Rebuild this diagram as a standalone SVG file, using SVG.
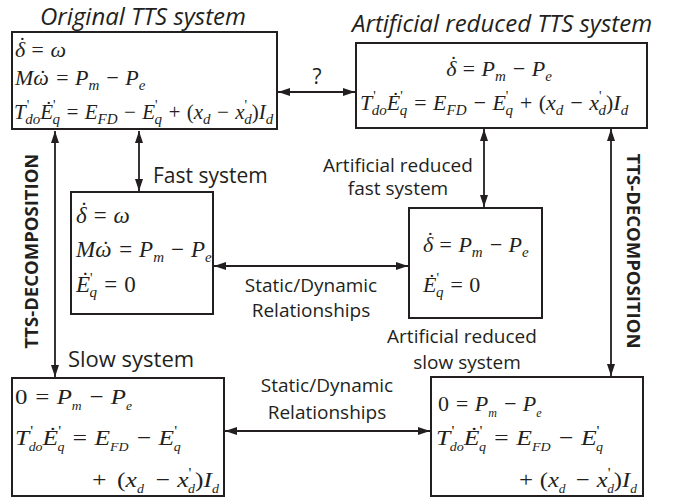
<svg xmlns="http://www.w3.org/2000/svg" width="678" height="502" viewBox="0 0 678 502">
<defs>
<marker id="ah" viewBox="0 0 12 8" refX="12" refY="4" markerWidth="12" markerHeight="8" markerUnits="userSpaceOnUse" orient="auto-start-reverse"><path d="M0,0 L12,4 L0,8 z" fill="#231f20"/></marker>
<style>
.box{fill:#fff;stroke:#231f20;stroke-width:2}
.eq{font-family:"Liberation Serif","Times New Roman",serif;font-style:italic;font-size:22px;fill:#231f20}
.n{font-style:normal}
.sb{font-size:15px}
.sb2{font-size:12px}
.pr{font-size:14px;font-style:normal}
.lbl{font-family:"Open Sans",sans-serif;font-size:19px;fill:#231f20}
.big{font-size:21px}
.title{font-family:"Open Sans",sans-serif;font-style:italic;font-size:24px;fill:#231f20}
.side{font-family:"Open Sans",sans-serif;font-weight:bold;font-size:18.5px;fill:#231f20}
.con{stroke:#231f20;stroke-width:1.8;fill:none;marker-start:url(#ah);marker-end:url(#ah)}
</style>
</defs>

<g id="connectors">
<line class="con" x1="278" y1="92" x2="355" y2="92"/>
<line class="con" x1="139" y1="131" x2="139" y2="191"/>
<line class="con" x1="484" y1="129" x2="484" y2="207"/>
<line class="con" x1="214" y1="266" x2="408" y2="266"/>
<line class="con" x1="55" y1="131" x2="55" y2="377"/>
<line class="con" x1="611" y1="129" x2="611" y2="376"/>
<line class="con" x1="225" y1="431" x2="430" y2="431"/>
<text class="lbl big" x="317" y="84" text-anchor="middle">?</text>
<text class="lbl big" x="153" y="183">Fast system</text>
<text class="lbl" x="398" y="172" text-anchor="middle">Artificial reduced</text>
<text class="lbl" x="398" y="195" text-anchor="middle">fast system</text>
<text class="lbl" x="311" y="292" text-anchor="middle">Static/Dynamic</text>
<text class="lbl" x="311" y="317" text-anchor="middle">Relationships</text>
<text class="lbl big" x="68" y="367" style="font-size:22px">Slow system</text>
<text class="lbl" x="462" y="343" text-anchor="middle">Artificial reduced</text>
<text class="lbl" x="467" y="369" text-anchor="middle">slow system</text>
<text class="lbl" x="327" y="392" text-anchor="middle">Static/Dynamic</text>
<text class="lbl" x="327" y="419" text-anchor="middle">Relationships</text>
<text class="side" transform="translate(38,251) rotate(-90)" text-anchor="middle">TTS-DECOMPOSITION</text>
<text class="side" transform="translate(627,251) rotate(90)" text-anchor="middle">TTS-DECOMPOSITION</text>
</g>

<g id="original">
<text class="title" x="143" y="25" text-anchor="middle">Original TTS system</text>
<rect class="box" x="12" y="32" width="265" height="97"/>
<text class="eq" x="15" y="57">δ<tspan dx="-8" dy="-5">˙</tspan><tspan dy="5"> = ω</tspan></text>
<text class="eq" x="15" y="85">Mω<tspan dx="-11">˙</tspan><tspan dx="4"> = P</tspan><tspan class="sb" dy="5">m</tspan><tspan dy="-5"> − P</tspan><tspan class="sb" dy="5">e</tspan></text>
<text class="eq" x="14" y="119" style="font-size:21px">T<tspan class="pr" dx="1" dy="-9">'</tspan><tspan class="sb" dx="-4" dy="14">do</tspan><tspan dy="-5">Ė</tspan><tspan class="pr" dy="-9">'</tspan><tspan class="sb" dx="-3" dy="14">q</tspan><tspan dy="-5"> = E</tspan><tspan class="sb" dy="5">FD</tspan><tspan dy="-5"> − E</tspan><tspan class="pr" dy="-9">'</tspan><tspan class="sb" dx="-3" dy="14">q</tspan><tspan dy="-5"> + <tspan class="n">(</tspan>x</tspan><tspan class="sb" dy="5">d</tspan><tspan dy="-5"> − x</tspan><tspan class="pr" dy="-9">'</tspan><tspan class="sb" dx="-3" dy="14">d</tspan><tspan dy="-5" class="n">)</tspan><tspan>I</tspan><tspan class="sb" dy="5">d</tspan></text>
</g>

<g id="artificial">
<text class="title" x="502" y="32" text-anchor="middle">Artificial reduced TTS system</text>
<rect class="box" x="356" y="43" width="291" height="85"/>
<text class="eq" x="499" y="76" text-anchor="middle">δ<tspan dx="-8" dy="-5">˙</tspan><tspan dy="5"> = P</tspan><tspan class="sb" dy="5">m</tspan><tspan dy="-5"> − P</tspan><tspan class="sb" dy="5">e</tspan></text>
<text class="eq" x="360" y="110">T<tspan class="pr" dx="1" dy="-9">'</tspan><tspan class="sb" dx="-4" dy="14">do</tspan><tspan dy="-5">Ė</tspan><tspan class="pr" dy="-9">'</tspan><tspan class="sb" dx="-3" dy="14">q</tspan><tspan dy="-5"> = E</tspan><tspan class="sb" dy="5">FD</tspan><tspan dy="-5"> − E</tspan><tspan class="pr" dy="-9">'</tspan><tspan class="sb" dx="-3" dy="14">q</tspan><tspan dy="-5"> + <tspan class="n">(</tspan>x</tspan><tspan class="sb" dy="5">d</tspan><tspan dy="-5"> − x</tspan><tspan class="pr" dy="-9">'</tspan><tspan class="sb" dx="-3" dy="14">d</tspan><tspan dy="-5" class="n">)</tspan><tspan>I</tspan><tspan class="sb" dy="5">d</tspan></text>
</g>

<g id="fast">
<rect class="box" x="71" y="192" width="142" height="122"/>
<text class="eq" x="76" y="223" style="font-size:23px">δ<tspan dx="-8" dy="-5">˙</tspan><tspan dy="5"> = ω</tspan></text>
<text class="eq" x="76" y="257" style="font-size:23px">Mω<tspan dx="-11">˙</tspan><tspan dx="4"> = P</tspan><tspan class="sb" dy="5">m</tspan><tspan dy="-5"> − P</tspan><tspan class="sb" dy="5">e</tspan></text>
<text class="eq" x="76" y="292" style="font-size:23px">Ė<tspan class="pr" dy="-9">'</tspan><tspan class="sb" dx="-3" dy="14">q</tspan><tspan dy="-5"> = </tspan><tspan class="n">0</tspan></text>
</g>

<g id="artfast">
<rect class="box" x="409" y="208" width="133" height="110"/>
<text class="eq" x="423" y="252">δ<tspan dx="-8" dy="-5">˙</tspan><tspan dy="5"> = P</tspan><tspan class="sb" dy="5">m</tspan><tspan dy="-5"> − P</tspan><tspan class="sb" dy="5">e</tspan></text>
<text class="eq" x="423" y="292">Ė<tspan class="pr" dy="-9">'</tspan><tspan class="sb" dx="-3" dy="14">q</tspan><tspan dy="-5"> = </tspan><tspan class="n">0</tspan></text>
</g>

<g id="slow">
<rect class="box" x="12" y="378" width="212" height="118"/>
<text class="eq" transform="translate(15,404) scale(1.13,1)"><tspan class="n">0</tspan> = P<tspan class="sb2" dy="6">m</tspan><tspan dy="-6"> − P</tspan><tspan class="sb2" dy="6">e</tspan></text>
<text class="eq" transform="translate(15,445) scale(1.16,1)">T<tspan class="pr" dx="1" dy="-9">'</tspan><tspan class="sb2" dx="-4" dy="15">do</tspan><tspan dy="-6">Ė</tspan><tspan class="pr" dy="-9">'</tspan><tspan class="sb2" dx="-3" dy="15">q</tspan><tspan dy="-6"> = E</tspan><tspan class="sb2" dy="6">FD</tspan><tspan dy="-6"> − E</tspan><tspan class="pr" dy="-9">'</tspan><tspan class="sb2" dx="-3" dy="15">q</tspan></text>
<text class="eq" transform="translate(219,487) scale(1.16,1)" text-anchor="end">+<tspan class="n" dx="8">(</tspan>x<tspan class="sb2" dy="6">d</tspan><tspan dy="-6" dx="3"> − x</tspan><tspan class="pr" dy="-9">'</tspan><tspan class="sb2" dx="-3" dy="15">d</tspan><tspan dy="-6" class="n">)</tspan><tspan>I</tspan><tspan class="sb2" dy="6">d</tspan></text>
</g>

<g id="artslow">
<rect class="box" x="431" y="377" width="212" height="119"/>
<text class="eq" transform="translate(438,411)"><tspan class="n">0</tspan> = P<tspan class="sb2" dy="6">m</tspan><tspan dy="-6"> − P</tspan><tspan class="sb2" dy="6">e</tspan></text>
<text class="eq" transform="translate(436,445) scale(1.17,1)">T<tspan class="pr" dx="1" dy="-9">'</tspan><tspan class="sb2" dx="-4" dy="15">do</tspan><tspan dy="-6">Ė</tspan><tspan class="pr" dy="-9">'</tspan><tspan class="sb2" dx="-3" dy="15">q</tspan><tspan dy="-6"> = E</tspan><tspan class="sb2" dy="6">FD</tspan><tspan dy="-6"> − E</tspan><tspan class="pr" dy="-9">'</tspan><tspan class="sb2" dx="-3" dy="15">q</tspan></text>
<text class="eq" transform="translate(637,487) scale(1.12,1)" text-anchor="end">+<tspan class="n" dx="5">(</tspan>x<tspan class="sb2" dy="6">d</tspan><tspan dy="-6" dx="2"> − x</tspan><tspan class="pr" dy="-9">'</tspan><tspan class="sb2" dx="-3" dy="15">d</tspan><tspan dy="-6" class="n">)</tspan><tspan>I</tspan><tspan class="sb2" dy="6">d</tspan></text>
</g>
</svg>
